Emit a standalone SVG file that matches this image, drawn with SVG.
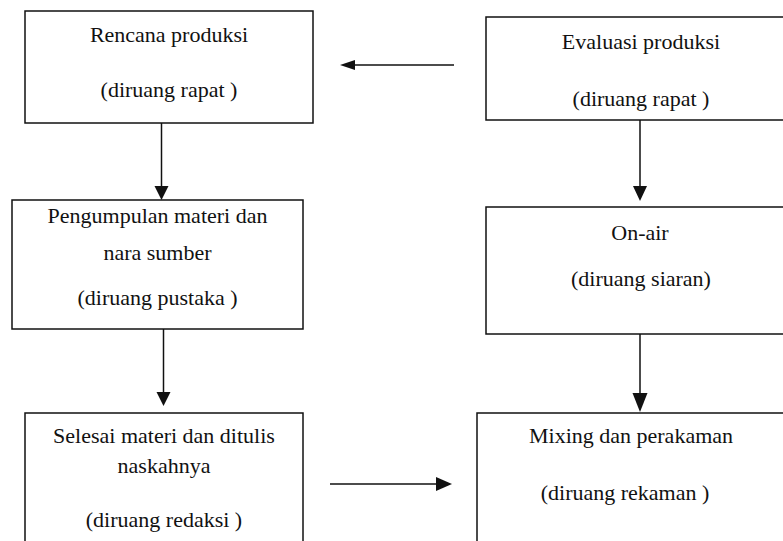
<svg xmlns="http://www.w3.org/2000/svg" width="783" height="541" viewBox="0 0 783 541">
<style>
.box{fill:none;stroke:#111;stroke-width:1.5}
.t{font-family:"Liberation Serif","Times New Roman",serif;font-size:22px;fill:#111;text-anchor:middle}
.c{stroke:#111;stroke-width:1.5;fill:none}
.h{fill:#111}
</style>
<rect width="783" height="541" fill="#fff"/>
<g id="rencana">
<rect class="box" x="25" y="11" width="288" height="112"/>
<text class="t" x="169" y="42">Rencana produksi</text>
<text class="t" x="169" y="97">(diruang rapat )</text>
</g>
<g id="evaluasi">
<rect class="box" x="486" y="17" width="310" height="103"/>
<text class="t" x="641" y="49">Evaluasi produksi</text>
<text class="t" x="641" y="106">(diruang rapat )</text>
</g>
<g id="pengumpulan">
<rect class="box" x="12" y="200" width="291" height="129"/>
<text class="t" x="157.5" y="223">Pengumpulan materi dan</text>
<text class="t" x="157.5" y="260">nara sumber</text>
<text class="t" x="157.5" y="305">(diruang pustaka  )</text>
</g>
<g id="onair">
<rect class="box" x="486" y="207" width="310" height="127"/>
<text class="t" x="640" y="240">On-air</text>
<text class="t" x="641" y="286">(diruang siaran)</text>
</g>
<g id="selesai">
<rect class="box" x="25" y="413" width="278" height="140"/>
<text class="t" x="164" y="443">Selesai materi dan ditulis</text>
<text class="t" x="164" y="473">naskahnya</text>
<text class="t" x="164" y="527">(diruang redaksi )</text>
</g>
<g id="mixing">
<rect class="box" x="477" y="413" width="320" height="140"/>
<text class="t" x="631" y="443">Mixing dan perakaman</text>
<text class="t" x="625" y="500">(diruang rekaman )</text>
</g>
<g id="connectors">
<line class="c" x1="454" y1="65" x2="352" y2="65"/>
<polygon class="h" points="340,65 355,60 355,70"/>
<line class="c" x1="161.5" y1="123" x2="161.5" y2="188"/>
<polygon class="h" points="161.5,200 154.5,186 168.5,186"/>
<line class="c" x1="163.5" y1="329" x2="163.5" y2="394"/>
<polygon class="h" points="163.5,406 156.5,392 170.5,392"/>
<line class="c" x1="330" y1="484" x2="438" y2="484"/>
<polygon class="h" points="452,484 436,477 436,491"/>
<line class="c" x1="640" y1="120" x2="640" y2="190"/>
<polygon class="h" points="640,201 633,186 647,186"/>
<line class="c" x1="640" y1="334" x2="640" y2="396"/>
<polygon class="h" points="640,412 632.5,393 647.5,393"/>
</g>
</svg>
